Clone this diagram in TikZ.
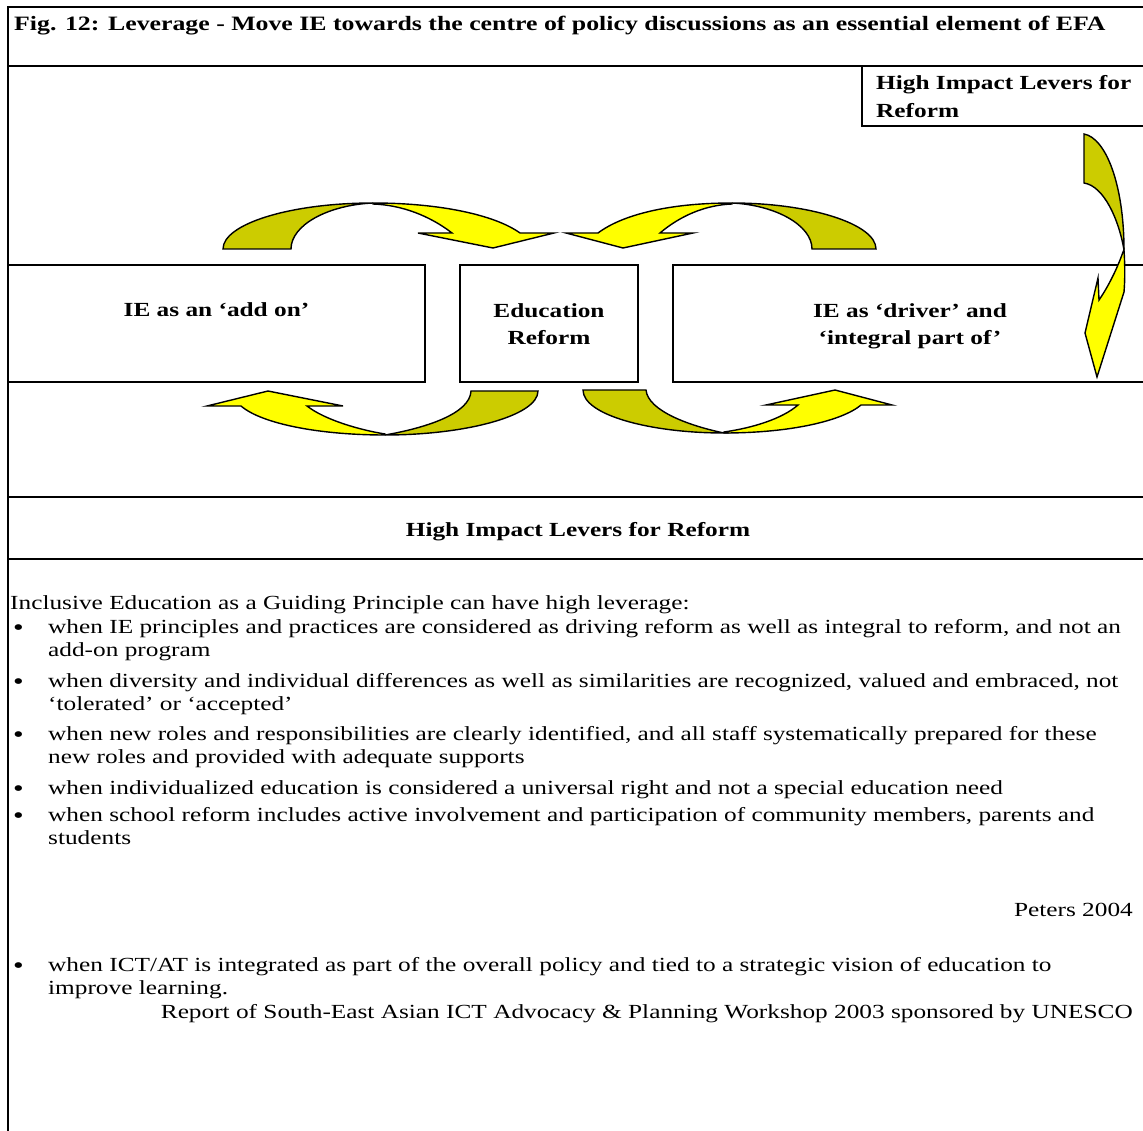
\documentclass[tikz,border=0pt]{standalone}
\usepackage{fontspec}
\setmainfont{Liberation Serif}[FakeStretch=1.265]
\begin{document}
\begin{tikzpicture}[x=1pt,y=-1pt,
  rule/.style={line width=2pt},
  cell/.style={draw,line width=2pt,rectangle,inner sep=0pt,minimum height=117pt},
  celltext/.style={anchor=base,inner sep=0pt,align=center,
    font=\fontsize{20}{28}\selectfont\bfseries},
  band/.style={draw=black,line width=1.4pt,line join=miter},
  front/.style={band,fill=yellow},
  back/.style={band,fill=olive},
  body/.style={anchor=base west,inner sep=0pt,font=\fontsize{20}{23}\selectfont},
  dot/.style={anchor=base west,inner sep=0pt,font=\fontsize{24}{23}\selectfont}]
\definecolor{yellow}{HTML}{FFFF00}
\definecolor{olive}{HTML}{CCCC00}
\useasboundingbox (0,0) rectangle (1143,1131);

% frame and horizontal rules of the table
\draw[rule] (8,1140) -- (8,7) -- (1150,7);
\draw[rule] (8,66) -- (1150,66);
\draw[rule] (8,497) -- (1150,497);
\draw[rule] (8,559) -- (1150,559);

% title
\node[anchor=base west,inner sep=0pt,font=\fontsize{20.4}{23}\selectfont\bfseries]
  (title) at (14,31) {Fig. 12: Leverage - Move IE towards the centre of policy discussions as an essential element of EFA};

% corner label box
\draw[rule] (862,66) -- (862,126) -- (1150,126);
\node[anchor=base west,inner sep=0pt,align=left,font=\fontsize{20}{28}\selectfont\bfseries]
  (corner) at (876,118) {High Impact Levers for\\Reform};

% the three boxes of the middle row
\node[cell,minimum width=417pt] (addon) at (216.5,323.5) {};
\node[cell,minimum width=178pt] (reform) at (549,323.5) {};
\node[cell,minimum width=474pt] (driver) at (910,323.5) {};
\node[celltext] (addonT) at ([yshift=-53pt]addon.north) {IE as an ‘add on’};
\node[celltext] (reformT) at ([yshift=-81pt]reform.north) {Education\\Reform};
\node[celltext] (driverT) at ([yshift=-81pt]driver.north) {IE as ‘driver’ and\\‘integral part of’};

% curved arrows above the row
\draw[back] (223,249) .. controls (223,224) and (290,203) .. (373,203)
  .. controls (328,205) and (291,225) .. (291,249) -- cycle;
\draw[front] (373,203) .. controls (440,203) and (495,215) .. (520,233)
  -- (554,233) -- (493,248) -- (418,233) -- (452,233)
  .. controls (430,216) and (402,205) .. (373,204) -- cycle;

\draw[back] (876,249) .. controls (876,224) and (810,203) .. (732,203)
  .. controls (775,205) and (812,225) .. (812,249) -- cycle;
\draw[front] (732,203) .. controls (668,203) and (622,215) .. (598,233)
  -- (566,233) -- (623,248) -- (693,233) -- (660,233)
  .. controls (680,216) and (705,205) .. (732,204) -- cycle;

% curved arrows below the row
\draw[back] (538,391) .. controls (538,416) and (465,435) .. (385,435)
  .. controls (425,428) and (470,414) .. (471,391) -- cycle;
\draw[front] (385,435) .. controls (320,435) and (262,424) .. (241,406)
  -- (207,406) -- (268,391) -- (343,406) -- (307,406)
  .. controls (325,420) and (360,430) .. (385,434) -- cycle;

\draw[back] (583,390) .. controls (583,415) and (650,433) .. (724,433)
  .. controls (690,426) and (648,411) .. (646,390) -- cycle;
\draw[front] (724,433) .. controls (790,433) and (842,421) .. (861,405)
  -- (892,405) -- (835,390) -- (766,405) -- (798,405)
  .. controls (782,419) and (752,428) .. (724,432) -- cycle;

% arrow down the right side
\draw[back] (1084,134) .. controls (1106,138) and (1124,185) .. (1124,250)
  .. controls (1119,220) and (1104,186) .. (1084,183) -- cycle;
\draw[front] (1124,250) .. controls (1125,265) and (1125,280) .. (1124,292)
  -- (1097,377) -- (1085,333) -- (1098,278) -- (1099,300)
  .. controls (1106,290) and (1116,272) .. (1123,252) -- cycle;

% heading of the lower part
\node[anchor=base,inner sep=0pt,font=\fontsize{20}{23}\selectfont\bfseries]
  (levers) at (578,536) {High Impact Levers for Reform};

% list of levers
\node[body] (intro) at (10,609) {Inclusive Education as a Guiding Principle can have high leverage:};
\node[dot] (b1) at (13,635) {•};
\node[body] (l1a) at (48,633) {when IE principles and practices are considered as driving reform as well as integral to reform, and not an};
\node[body] (l1b) at (48,656) {add-on program};
\node[dot] (b2) at (13,689) {•};
\node[body] (l2a) at (48,687) {when diversity and individual differences as well as similarities are recognized, valued and embraced, not};
\node[body] (l2b) at (48,710) {‘tolerated’ or ‘accepted’};
\node[dot] (b3) at (13,742) {•};
\node[body] (l3a) at (48,740) {when new roles and responsibilities are clearly identified, and all staff systematically prepared for these};
\node[body] (l3b) at (48,763) {new roles and provided with adequate supports};
\node[dot] (b4) at (13,796) {•};
\node[body] (l4a) at (48,794) {when individualized education is considered a universal right and not a special education need};
\node[dot] (b5) at (13,823) {•};
\node[body] (l5a) at (48,821) {when school reform includes active involvement and participation of community members, parents and};
\node[body] (l5b) at (48,844) {students};
\node[body,anchor=base east] (src1) at (1133,916) {Peters 2004};
\node[dot] (b6) at (13,973) {•};
\node[body] (l6a) at (48,971) {when ICT/AT is integrated as part of the overall policy and tied to a strategic vision of education to};
\node[body] (l6b) at (48,994) {improve learning.};
\node[body,anchor=base east] (src2) at (1133,1018) {Report of South-East Asian ICT Advocacy \& Planning Workshop 2003 sponsored by UNESCO};
\end{tikzpicture}
\end{document}
